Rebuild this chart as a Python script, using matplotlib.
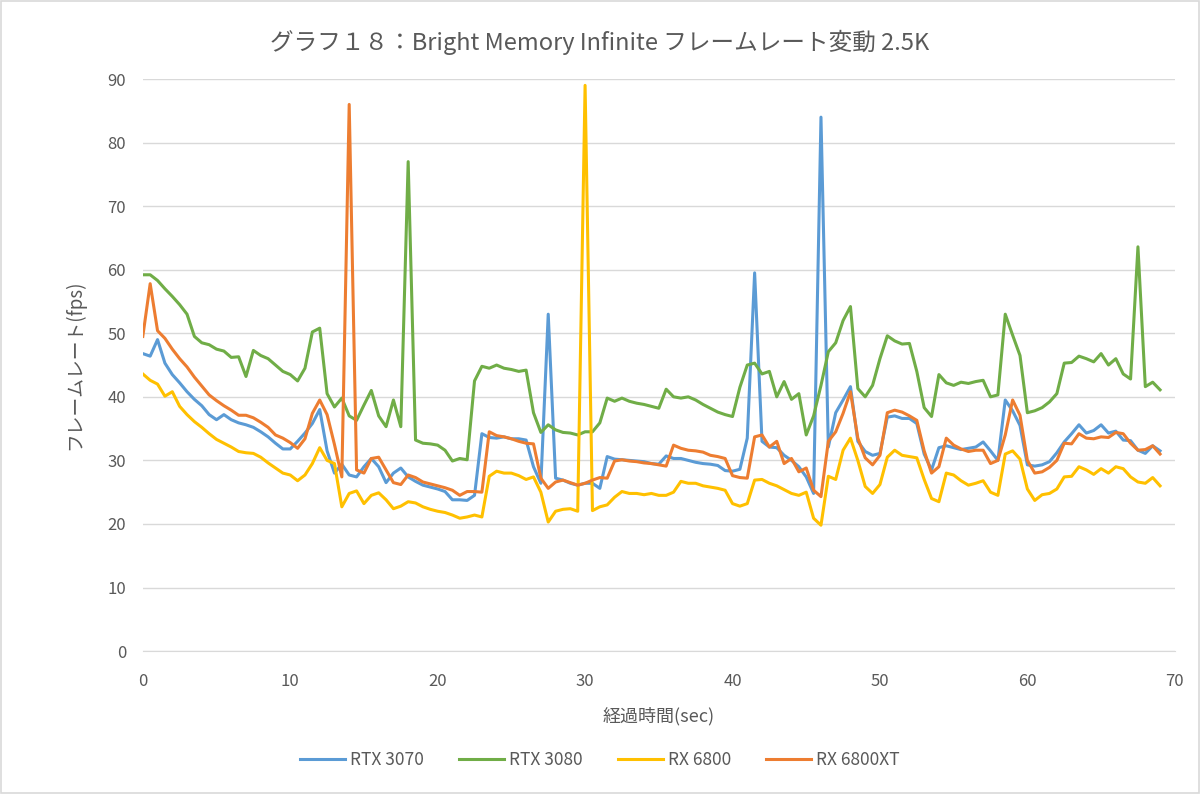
import matplotlib
matplotlib.use("Agg")
import matplotlib.pyplot as plt
import numpy as np
from matplotlib.patches import Rectangle

plt.rcParams['font.family'] = ['Noto Sans CJK JP', 'DejaVu Sans']

# samples every 0.5 sec
dt = 0.5

rtx3070 = [46.8, 46.4, 49.0, 45.3, 43.5, 42.2, 40.8, 39.6, 38.6, 37.2,
           36.4, 37.2, 36.4, 35.9, 35.6, 35.2, 34.5, 33.7, 32.7, 31.8,
           31.8, 33.0, 34.3, 35.8, 38.0, 31.5, 28.0, 29.4, 27.7, 27.4,
           29.0, 30.3, 29.0, 26.5, 28.0, 28.8, 27.4, 26.7, 26.1, 25.8,
           25.5, 25.1, 23.8, 23.8, 23.7, 24.5, 34.2, 33.6, 33.5, 33.7,
           33.4, 33.4, 33.2, 29.0, 26.4, 53.0, 27.2, 26.9, 26.4, 26.1,
           26.4, 26.4, 25.6, 30.6, 30.2, 30.1, 30.0, 29.9, 29.8, 29.5,
           29.4, 30.7, 30.3, 30.3, 30.0, 29.7, 29.5, 29.4, 29.2, 28.4,
           28.3, 28.6, 33.5, 59.5, 33.0, 32.1, 32.0, 30.8, 30.0, 29.0,
           27.4, 24.8, 84.0, 32.1, 37.5, 39.5, 41.6, 33.0, 31.4, 30.8,
           31.1, 36.8, 37.0, 36.6, 36.6, 35.8, 31.0, 28.5, 32.0, 32.3,
           32.0, 31.7, 31.9, 32.1, 32.9, 31.5, 30.0, 39.5, 37.8, 35.5,
           29.3, 29.1, 29.3, 29.8, 31.2, 32.9, 34.2, 35.6, 34.3, 34.7,
           35.6, 34.3, 34.6, 33.2, 33.1, 31.6, 31.1, 32.3, 31.5]

rtx3080 = [59.2, 59.2, 58.3, 57.0, 55.8, 54.5, 53.0, 49.5, 48.5, 48.2,
           47.5, 47.2, 46.2, 46.3, 43.2, 47.3, 46.5, 46.0, 45.0, 44.0,
           43.5, 42.5, 44.5, 50.2, 50.8, 40.5, 38.4, 39.8, 37.0, 36.3,
           38.7, 41.0, 37.0, 35.3, 39.5, 35.3, 77.0, 33.2, 32.7, 32.6,
           32.4, 31.6, 29.9, 30.3, 30.1, 42.5, 44.8, 44.5, 45.0, 44.5,
           44.3, 44.0, 44.2, 37.5, 34.4, 35.6, 34.8, 34.4, 34.3, 34.0,
           34.5, 34.5, 35.9, 39.8, 39.3, 39.8, 39.3, 39.0, 38.8, 38.5,
           38.2, 41.2, 40.0, 39.8, 40.0, 39.5, 38.8, 38.2, 37.6, 37.2,
           36.9, 41.5, 45.0, 45.3, 43.6, 44.0, 40.0, 42.4, 39.6, 40.5,
           34.0, 37.0, 41.8, 47.1, 48.5, 52.0, 54.2, 41.3, 40.0, 41.8,
           46.0, 49.6, 48.8, 48.3, 48.4, 44.0, 38.3, 36.9, 43.5, 42.2,
           41.8, 42.3, 42.1, 42.4, 42.6, 40.0, 40.3, 53.0, 49.7, 46.5,
           37.5, 37.8, 38.3, 39.2, 40.5, 45.3, 45.4, 46.4, 46.0, 45.5,
           46.8, 45.0, 46.0, 43.6, 42.8, 63.6, 41.6, 42.3, 41.1]

rx6800 = [43.6, 42.6, 42.0, 40.1, 40.8, 38.5, 37.2, 36.1, 35.2, 34.2,
          33.3, 32.7, 32.1, 31.4, 31.2, 31.1, 30.5, 29.6, 28.8, 28.0,
          27.7, 26.8, 27.7, 29.5, 32.0, 30.0, 29.5, 22.7, 24.8, 25.2,
          23.2, 24.5, 24.9, 23.8, 22.4, 22.8, 23.5, 23.3, 22.7, 22.3,
          22.0, 21.8, 21.4, 20.9, 21.1, 21.4, 21.1, 27.5, 28.3, 28.0,
          28.0, 27.6, 27.0, 27.4, 25.0, 20.3, 22.0, 22.3, 22.4, 22.0,
          89.0, 22.1, 22.7, 23.0, 24.2, 25.1, 24.8, 24.8, 24.6, 24.8,
          24.5, 24.5, 25.0, 26.7, 26.4, 26.4, 26.0, 25.8, 25.6, 25.3,
          23.2, 22.8, 23.2, 26.9, 27.0, 26.4, 26.0, 25.4, 24.8, 24.5,
          25.0, 20.9, 19.8, 27.5, 27.0, 31.6, 33.5, 30.0, 25.9, 24.8,
          26.2, 30.5, 31.6, 30.8, 30.6, 30.4, 27.0, 24.0, 23.5, 28.0,
          27.7, 26.8, 26.1, 26.4, 26.8, 25.0, 24.5, 31.0, 31.5, 30.2,
          25.5, 23.7, 24.6, 24.8, 25.5, 27.4, 27.5, 29.0, 28.5, 27.8,
          28.7, 28.0, 29.0, 28.7, 27.4, 26.6, 26.4, 27.3, 26.0]

rx6800xt = [49.5, 57.8, 50.4, 49.2, 47.5, 46.0, 44.7, 43.1, 41.7, 40.3,
            39.4, 38.6, 37.9, 37.1, 37.1, 36.7, 36.0, 35.2, 34.0, 33.5,
            32.8, 31.9, 33.4, 37.4, 39.5, 37.2, 32.5, 27.4, 86.0, 28.5,
            28.0, 30.3, 30.5, 28.5, 26.5, 26.2, 27.7, 27.3, 26.6, 26.3,
            26.0, 25.7, 25.3, 24.5, 25.1, 25.1, 25.0, 34.5, 33.9, 33.7,
            33.4, 33.0, 32.7, 32.6, 27.2, 25.6, 26.6, 26.9, 26.5, 26.1,
            26.4, 26.9, 27.3, 27.2, 29.9, 30.1, 29.9, 29.8, 29.6, 29.5,
            29.3, 29.1, 32.4, 31.9, 31.6, 31.5, 31.3, 30.8, 30.6, 30.3,
            27.6, 27.3, 27.2, 33.7, 34.0, 32.1, 33.0, 29.5, 30.3, 28.2,
            28.8, 25.3, 24.3, 33.0, 34.5, 37.4, 40.8, 33.5, 30.4, 29.3,
            30.8, 37.5, 37.9, 37.6, 37.0, 36.3, 31.5, 28.0, 29.0, 33.5,
            32.4, 31.8, 31.4, 31.6, 31.6, 29.5, 30.0, 34.0, 39.5, 37.1,
            30.0, 28.0, 28.2, 28.9, 30.0, 32.7, 32.6, 34.2, 33.5, 33.4,
            33.7, 33.6, 34.4, 34.2, 32.7, 31.6, 31.7, 32.3, 31.0]

labels = ['RTX 3070', 'RTX 3080', 'RX 6800', 'RX 6800XT']
colors = ['#5B9BD5', '#70AD47', '#FFC000', '#ED7D31']
series = [rtx3070, rtx3080, rx6800, rx6800xt]

fig = plt.figure(figsize=(12, 7.94), dpi=100)
ax = fig.add_axes([0.119, 0.180, 0.860, 0.7205])

for vals, lab, col in zip(series, labels, colors):
    t = np.arange(len(vals)) * dt
    ax.plot(t, vals, color=col, lw=2.2, label=lab)

ax.set_xlim(0, 70)
ax.set_ylim(0, 90)
ax.set_xticks(np.arange(0, 71, 10))
ax.set_yticks(np.arange(0, 91, 10))
ax.grid(axis='y', color='#D9D9D9', lw=1.0)
ax.set_axisbelow(True)
for s in ['top', 'right', 'left']:
    ax.spines[s].set_visible(False)
ax.spines['bottom'].set_color('#D9D9D9')
ax.tick_params(axis='x', length=0, labelsize=12, colors='#595959', pad=16)
ax.tick_params(axis='y', length=0, labelsize=12, colors='#595959', pad=12)

ax.set_xlabel('経過時間(sec)', fontsize=13, color='#595959', labelpad=12)
ax.set_ylabel('フレームレート(fps)', fontsize=13.5, color='#595959', labelpad=16)
fig.suptitle('グラフ１８：Bright Memory Infinite フレームレート変動 2.5K',
             x=0.5, y=0.962, fontsize=17, color='#595959')

fig.legend(loc='center', bbox_to_anchor=(0.5, 0.043), ncol=4,
           frameon=False, fontsize=12.5, handlelength=2.6, columnspacing=2.0,
           handletextpad=0.3, labelcolor='#595959')

fig.patches.append(Rectangle((0.001, 0.001), 0.998, 0.998, transform=fig.transFigure,
                             fill=False, edgecolor='#D9D9D9', lw=1.2))

fig.savefig('out.png', dpi=100, facecolor='white')
